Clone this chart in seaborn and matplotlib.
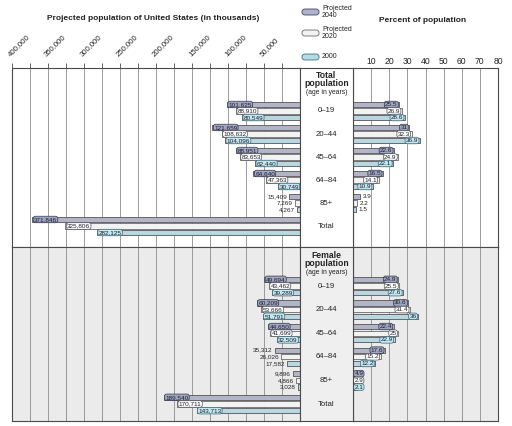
import matplotlib
matplotlib.use("Agg")
import matplotlib.pyplot as plt
import seaborn as sns
import pandas as pd
from matplotlib.patches import FancyBboxPatch

ages = ["0–19", "20–44", "45–64", "64–84", "85+", "Total"]
years = ["2040", "2020", "2000"]

total_2040 = [101625, 121659, 88951, 64640, 15409, 371846]
total_2020 = [88910, 108632, 83653, 47363, 7269, 325806]
total_2000 = [80549, 104096, 62440, 30749, 4267, 282125]
total_pct_2040 = [25.5, 31, 22.6, 16.5, 3.9]
total_pct_2020 = [26.9, 32.3, 24.9, 14.1, 2.2]
total_pct_2000 = [28.6, 36.9, 22.1, 10.9, 1.5]

female_2040 = [49694, 60209, 44650, 35312, 9896, 189540]
female_2020 = [43462, 53666, 41699, 26026, 4866, 170711]
female_2000 = [39289, 51791, 32509, 17582, 3028, 143713]
female_pct_2040 = [24.9, 30.6, 22.4, 17.6, 4.9]
female_pct_2020 = [25.5, 31.4, 25, 15.2, 2.9]
female_pct_2000 = [27.6, 36, 22.9, 12.2, 2.1]

left_ticks = [400000, 350000, 300000, 250000, 200000, 150000, 100000, 50000]
left_tick_labels = ["400,000", "350,000", "300,000", "250,000", "200,000", "150,000", "100,000", "50,000"]
right_ticks = [10, 20, 30, 40, 50, 60, 70, 80]

sns.set_style("white")
plt.rcParams['font.family'] = ['Liberation Sans', 'DejaVu Sans']

bar_fc = {"2040": "#aeb2ca", "2020": "#f3f3f3", "2000": "#b2dbe6"}
bar_ec = {"2040": "#41455f", "2020": "#6a6a6a", "2000": "#3f7282"}
box_fc = {"2040": "#a0a5bf", "2020": "#ffffff", "2000": "#c4e6ee"}
box_ec = {"2040": "#30344e", "2020": "#555555", "2000": "#36697a"}

W, H = 512, 426
fig = plt.figure(figsize=(W / 100, H / 100), dpi=100)


def ax_px(x0, y0, x1, y1):
    return fig.add_axes([x0 / W, 1 - y1 / H, (x1 - x0) / W, (y1 - y0) / H])


def make_df(vals):
    rows = []
    for yr, arr in zip(years, vals):
        for a, v in zip(ages, arr):
            rows.append({"age": a, "year": yr, "value": v})
    return pd.DataFrame(rows)


GRAY_BG = "#ebebeb"
FRAME = "#4a4a4a"
GRID = "#8c8c8c"
offs = [-0.85 / 3, 0, 0.85 / 3]


def fmt_int(v):
    return f"{v:,}"


def fmt_pct(v):
    return f"{v:g}"


def draw_panel(ax, vals, side, ylim, plain_groups, bg):
    df = make_df(vals)
    ax.set_facecolor(bg)
    sns.barplot(data=df, y="age", x="value", hue="year", order=ages, hue_order=years,
                orient="h", palette=bar_fc, width=0.85, errorbar=None, legend=False,
                ax=ax, linewidth=0.6, edgecolor="#555555", zorder=3)
    for p in ax.patches:
        h = p.get_height()
        p.set_height(h * 0.78)
        p.set_y(p.get_y() + h * 0.11)
        p.set_joinstyle("round")
        fc = matplotlib.colors.to_hex(p.get_facecolor())
        for yr in years:
            if fc == matplotlib.colors.to_hex(bar_fc[yr]):
                p.set_edgecolor(bar_ec[yr])
    if side == "left":
        ax.set_xlim(400000, 0)
        for x in range(25000, 400000, 25000):
            ax.axvline(x, color=GRID, lw=0.6, zorder=1)
    else:
        ax.set_xlim(0, 80)
        for x in range(10, 80, 10):
            ax.axvline(x, color=GRID, lw=0.6, zorder=1)
    ax.set_ylim(*ylim)
    for j, yr in enumerate(years):
        arr = vals[j]
        for i, v in enumerate(arr):
            y = i + offs[j]
            txt = fmt_int(v) if side == "left" else fmt_pct(v)
            plain = ages[i] in plain_groups
            boxed = dict(boxstyle="round,pad=0.12,rounding_size=0.35",
                         fc=box_fc[yr], ec=box_ec[yr], lw=0.5)
            if side == "left":
                if plain:
                    ax.annotate(txt, (v, y), xytext=(-1.5, 0), textcoords="offset points",
                                ha="right", va="center", fontsize=4.6, color="#222222", zorder=5)
                else:
                    ax.annotate(txt, (v, y), xytext=(1.2, 0), textcoords="offset points",
                                ha="left", va="center", fontsize=4.6, color="#1e1e2a", zorder=5,
                                bbox=boxed)
            else:
                if plain:
                    ax.annotate(txt, (v, y), xytext=(2, 0), textcoords="offset points",
                                ha="left", va="center", fontsize=4.6, color="#222222", zorder=5)
                elif v < 6:
                    ax.annotate(txt, (0, y), xytext=(1.0, 0), textcoords="offset points",
                                ha="left", va="center", fontsize=4.6, color="#1e1e2a", zorder=5,
                                bbox=boxed)
                else:
                    ax.annotate(txt, (v, y), xytext=(-1.2, 0), textcoords="offset points",
                                ha="right", va="center", fontsize=4.6, color="#1e1e2a", zorder=5,
                                bbox=boxed)
    ax.set_xlabel("")
    ax.set_ylabel("")
    ax.set_yticks([])
    for s in ax.spines.values():
        s.set_color(FRAME)
        s.set_linewidth(0.8)


upper_ylim = ((247 - 111) / 23, (68 - 111) / 23)
lower_ylim = ((421 - 286) / 23.6, (247 - 286) / 23.6)

axLU = ax_px(12, 68, 300, 247)
draw_panel(axLU, [total_2040, total_2020, total_2000], "left", upper_ylim, {"85+"}, "white")
axLL = ax_px(12, 247, 300, 421)
draw_panel(axLL, [female_2040, female_2020, female_2000], "left", lower_ylim, {"64–84", "85+"}, GRAY_BG)

axRU = ax_px(353, 68, 498, 247)
draw_panel(axRU, [total_pct_2040, total_pct_2020, total_pct_2000], "right", upper_ylim, {"85+"}, "white")
axRL = ax_px(353, 247, 498, 421)
draw_panel(axRL, [female_pct_2040, female_pct_2020, female_pct_2000], "right", lower_ylim, set(), GRAY_BG)

axMU = ax_px(300, 68, 353, 247)
axMU.set_xticks([]); axMU.set_yticks([])
axML = ax_px(300, 247, 353, 421)
axML.set_xticks([]); axML.set_yticks([])
axML.set_facecolor("#efefef")
for a in (axMU, axML):
    for s in a.spines.values():
        s.set_color(FRAME)
        s.set_linewidth(0.8)

axLU.xaxis.tick_top()
axLU.set_xticks(list(range(25000, 400001, 25000)))
axLU.set_xticklabels([])
axLU.tick_params(axis="x", top=True, direction="out", length=3.5, width=0.6, color=FRAME)
for v, lab in zip(left_ticks, left_tick_labels):
    axLU.annotate(lab, (v, 1.0), xycoords=("data", "axes fraction"), xytext=(-2, 9),
                  textcoords="offset points", rotation=45, rotation_mode="anchor",
                  ha="left", va="center", fontsize=5.6, color="#222222")
axLL.set_xticks([])
axRU.xaxis.tick_top()
axRU.set_xticks(right_ticks)
axRU.set_xticklabels([str(t) for t in right_ticks], fontsize=6.2, color="#222222")
axRU.tick_params(axis="x", top=True, length=0, pad=1.5)
axRL.set_xticks([])


def ftext(x, y, s, **kw):
    fig.text(x / W, 1 - y / H, s, **kw)


ftext(153, 19, "Projected population of United States (in thousands)", ha="center", va="center",
      fontsize=6.0, fontweight="bold", color="#222222")
ftext(423, 20, "Percent of population", ha="center", va="center",
      fontsize=6.0, fontweight="bold", color="#222222")

mx = 326.5
ftext(mx, 75, "Total", ha="center", va="center", fontsize=6.2, fontweight="bold", color="#222222")
ftext(mx, 83.5, "population", ha="center", va="center", fontsize=6.2, fontweight="bold", color="#222222")
ftext(mx, 92, "(age in years)", ha="center", va="center", fontsize=4.9, color="#222222")
ftext(mx, 255, "Female", ha="center", va="center", fontsize=6.2, fontweight="bold", color="#222222")
ftext(mx, 263.5, "population", ha="center", va="center", fontsize=6.2, fontweight="bold", color="#222222")
ftext(mx, 272, "(age in years)", ha="center", va="center", fontsize=4.9, color="#222222")
for i, a in enumerate(ages):
    ftext(mx, 111 + 23.2 * i, a, ha="center", va="center", fontsize=5.6, color="#222222")
    ftext(mx, 286 + 23.6 * i, a, ha="center", va="center", fontsize=5.6, color="#222222")

leg_items = [("2040", 12, "Projected\n2040"), ("2020", 33, "Projected\n2020"), ("2000", 57, "2000")]
for yr, yc, lab in leg_items:
    x0, x1 = 302, 319
    fig.patches.append(FancyBboxPatch((x0 / W, 1 - (yc + 3) / H), (x1 - x0) / W, 6 / H,
                                      boxstyle="round,pad=0,rounding_size=0.006",
                                      transform=fig.transFigure, fc=bar_fc[yr], ec=bar_ec[yr], lw=0.6))
    ftext(322, yc, lab, ha="left", va="center", fontsize=5.0, color="#222222", linespacing=1.0)

fig.savefig("out.png", dpi=100)
